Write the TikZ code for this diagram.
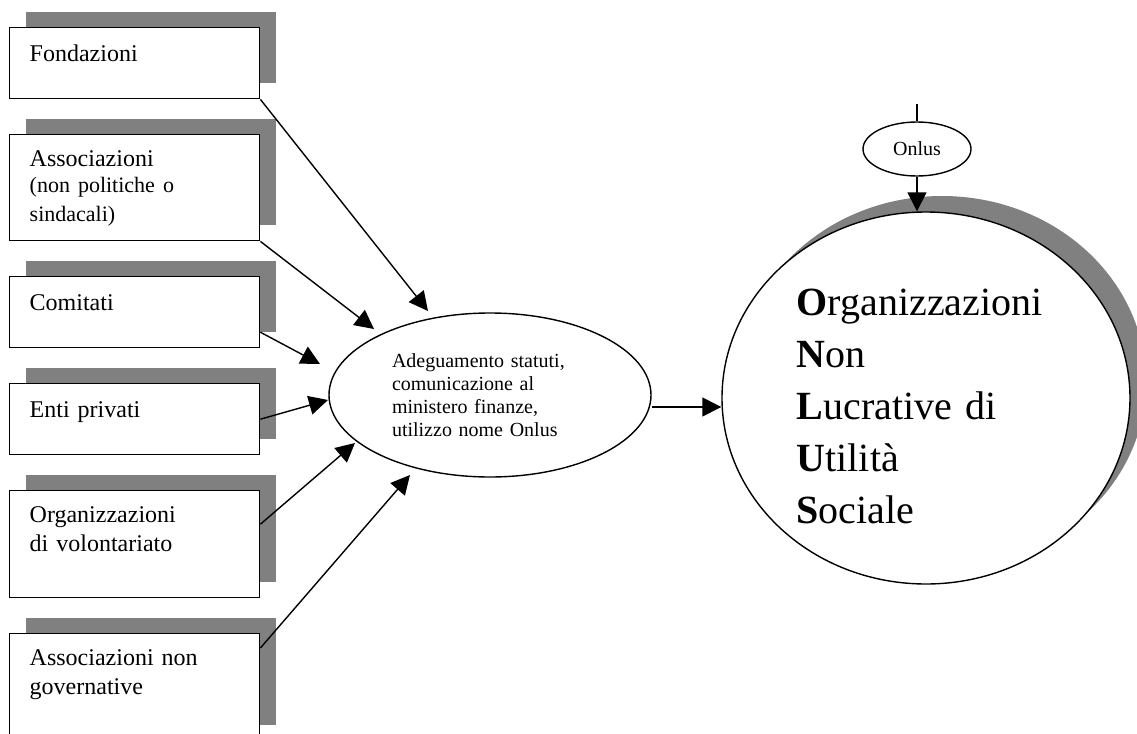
\documentclass[tikz,border=0pt]{standalone}
\usepackage{fontspec}
\setmainfont{Liberation Serif}
\usetikzlibrary{shapes.geometric,shadows,arrows.meta}

\begin{document}
\begin{tikzpicture}
[x=0.5pt,y=-0.5pt,line width=0.7pt,>={Triangle[length=9.5pt,width=9.5pt]},%
  dropsh/.style={drop shadow={shadow xshift=8pt,shadow yshift=8pt,fill=gray,opacity=1}},%
  srcbox/.style={draw,fill=white,anchor=north west,minimum width=125pt,inner sep=0pt,dropsh},%
  srctext/.style={anchor=base west,inner sep=0pt,text width=115pt,align=left,font=\fontsize{12}{14.5}\selectfont},%
  procell/.style={ellipse,draw,fill=white,inner sep=0pt,minimum width=161pt,minimum height=82pt,%
    text width=98pt,align=left,font=\fontsize{10}{11.4}\selectfont},%
  tagell/.style={ellipse,draw,fill=white,inner sep=0pt,minimum width=54pt,minimum height=27pt,font=\fontsize{10}{12}\selectfont},%
  bigell/.style={ellipse,draw,fill=white,minimum width=204pt,minimum height=186pt,dropsh},%
  bigtext/.style={anchor=base west,inner sep=0pt,text width=140pt,align=left,font=\fontsize{20}{26}\selectfont}]
\useasboundingbox (0,0) rectangle (1137,734);
\node[srcbox,minimum height=35.5pt] (fond) at (9,27) {};
\node[srcbox,minimum height=53pt] (assoc) at (9,134) {};
\node[srcbox,minimum height=35.5pt] (comit) at (9,276) {};
\node[srcbox,minimum height=35.5pt] (enti) at (9,383) {};
\node[srcbox,minimum height=53.5pt] (volont) at (9,490) {};
\node[srcbox,minimum height=53.5pt] (ong) at (9,633) {};
\node[srctext] (fond-t) at ([shift={(10pt,-17pt)}]fond.north west) {Fondazioni};
\node[srctext] (assoc-t) at ([shift={(10pt,-16pt)}]assoc.north west)
  {Associazioni\\\fontsize{11}{13}\selectfont(non politiche o\\sindacali)};
\node[srctext] (comit-t) at ([shift={(10pt,-17pt)}]comit.north west) {Comitati};
\node[srctext] (enti-t) at ([shift={(10pt,-17pt)}]enti.north west) {Enti privati};
\node[srctext] (volont-t) at ([shift={(10pt,-16pt)}]volont.north west) {Organizzazioni\\di volontariato};
\node[srctext] (ong-t) at ([shift={(10pt,-16pt)}]ong.north west) {Associazioni non\\governative};
\node[procell] (adeg) at (490,395)
  {Adeguamento statuti,\\comunicazione al\\ministero finanze,\\utilizzo nome Onlus};
\node[bigell] (org) at (926,398) {};
\node[bigtext] (org-t) at ([shift={(-65pt,41.5pt)}]org.center)
  {\textbf{O}rganizzazioni\\\textbf{N}on\\\textbf{L}ucrative di\\\textbf{U}tilità\\\textbf{S}ociale};
\node[tagell] (onlus) at (917,149) {Onlus};
\coordinate (top) at (917,104);
\coordinate (in1) at (428,311);
\coordinate (in2) at (374,329);
\coordinate (in3) at (320,364);
\coordinate (in4) at (328,400);
\coordinate (in5) at (355,443);
\coordinate (in6) at (410,475);
\draw[->] (fond.south east) -- (in1);
\draw[->] (assoc.south east) -- (in2);
\draw[->] ([yshift=-10pt]comit.east) -- (in3);
\draw[->] (enti.east) -- (in4);
\draw[->] ([yshift=10pt]volont.east) -- (in5);
\draw[->] ([yshift=-7.5pt]ong.north east) -- (in6);
\draw[->] ([yshift=-6pt]adeg.east) -- ([yshift=-6pt]adeg.east -| org.west);
\draw (top) -- (onlus.north);
\draw[->] (onlus.south) -- (onlus.south |- org.north);
\end{tikzpicture}
\end{document}
